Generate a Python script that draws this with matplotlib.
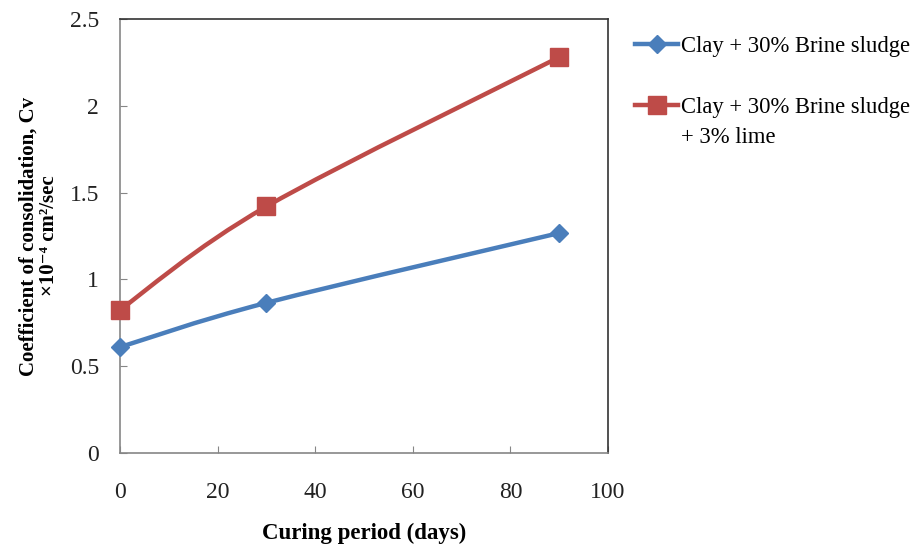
import numpy as np
import matplotlib.pyplot as plt
from matplotlib.path import Path
from matplotlib.patches import PathPatch
from matplotlib.lines import Line2D

plt.rcParams['font.family'] = ['Liberation Serif', 'DejaVu Serif']

curing_days = [0, 30, 90]
cv_sludge = [0.61, 0.865, 1.267]
cv_sludge_lime = [0.825, 1.42, 2.28]

BLUE = "#4A7EBB"
RED = "#BE4B48"


def smooth_path(xs, ys):
    # Excel-style smoothed line: Catmull-Rom as cubic Bezier segments
    pts = np.column_stack([xs, ys]).astype(float)
    ext = np.vstack([pts[0], pts, pts[-1]])
    verts = [pts[0]]
    codes = [Path.MOVETO]
    for i in range(1, len(ext) - 2):
        p0, p1, p2, p3 = ext[i - 1], ext[i], ext[i + 1], ext[i + 2]
        c1 = p1 + (p2 - p0) / 6.0
        c2 = p2 - (p3 - p1) / 6.0
        verts += [c1, c2, p2]
        codes += [Path.CURVE4] * 3
    return Path(verts, codes)


fig = plt.figure(figsize=(9.16, 5.48), dpi=100)
ax = fig.add_axes([120 / 916, 95 / 548, 488 / 916, 434 / 548])

series = [
    (cv_sludge, BLUE, "D", 9, "Clay + 30% Brine sludge"),
    (cv_sludge_lime, RED, "s", 12.5, "Clay + 30% Brine sludge"),
]
handles = []
for vals, color, marker, ms, label in series:
    ax.add_patch(PathPatch(smooth_path(curing_days, vals), facecolor="none",
                           edgecolor=color, lw=3.2, capstyle="round", zorder=2))
    ax.plot(curing_days, vals, ls="none", marker=marker, ms=ms, color=color,
            markeredgecolor=color, zorder=3, clip_on=False)
    handles.append(Line2D([], [], color=color, lw=3.2, marker=marker,
                          ms=ms, label=label))

ax.set_xlim(0, 100)
ax.set_ylim(0, 2.5)
ax.set_xticks(range(0, 101, 20))
ax.set_yticks([0, 0.5, 1, 1.5, 2, 2.5])
ax.set_yticklabels(["0", "0.5", "1", "1.5", "2", "2.5"])
ax.tick_params(direction="in", length=5, color="#868686", labelsize=17,
               labelcolor="#222222")
ax.tick_params(axis="x", pad=21)
ax.tick_params(axis="y", pad=15)
for side in ["left", "bottom"]:
    ax.spines[side].set_color("#868686")
    ax.spines[side].set_linewidth(1.2)
for side in ["top", "right"]:
    ax.spines[side].set_color("#333333")
    ax.spines[side].set_linewidth(1.2)

ax.set_xlabel("Curing period (days)", fontsize=16.5, fontweight="bold", labelpad=14)
ax.set_ylabel("Coefficient of consolidation, Cv\n×10⁻⁴ cm²/sec",
              fontsize=15, fontweight="bold", labelpad=8, linespacing=1.0)

leg = fig.legend(handles=handles, loc="upper left",
                 bbox_to_anchor=(626 / 916, 1 - 27 / 548),
                 frameon=False, fontsize=16.3, handlelength=1.9, handletextpad=0.15,
                 labelspacing=1.75, borderaxespad=0)
fig.canvas.draw()
ax.annotate("+ 3% lime", xy=(0, 0), xycoords=leg.get_texts()[1],
            xytext=(0, -7), textcoords="offset points", va="top", ha="left",
            fontsize=16.3, annotation_clip=False)

fig.savefig("out.png", dpi=100)
